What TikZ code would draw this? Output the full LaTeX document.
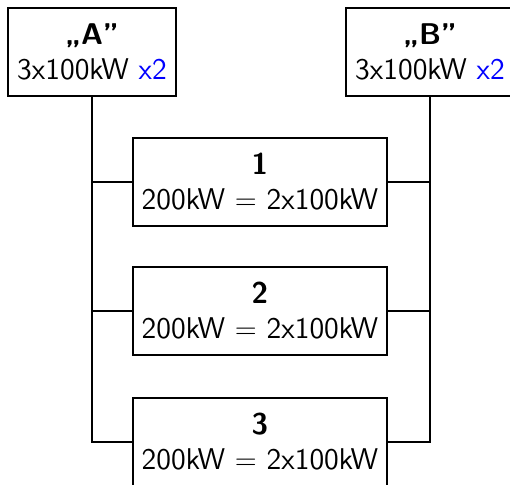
\documentclass[tikz,border=0pt]{standalone}
\usepackage{fontspec}
\begin{document}
\begin{tikzpicture}[x=0.5pt,y=-0.5pt,
  font=\sffamily\fontsize{15}{17.5}\selectfont,
  box/.style={draw, line width=0.75pt, fill=white, inner sep=0pt, align=center, minimum height=44pt},
  topbox/.style={box, minimum width=84pt},
  midbox/.style={box, minimum width=127pt},
  wire/.style={line width=0.75pt}]
\path[use as bounding box] (0,0) rectangle (510,484);
\clip (0,0) rectangle (510,484);
\node[topbox] (A) at (92,52) {\textbf{„A”}\\3x100kW \textcolor{blue}{x2}};
\node[topbox] (B) at (430,52) {\textbf{„B”}\\3x100kW \textcolor{blue}{x2}};
\node[midbox] (n1) at (260,182) {\textbf{1}\\200kW $=$ 2x100kW};
\node[midbox] (n2) at (260,311) {\textbf{2}\\200kW $=$ 2x100kW};
\node[midbox] (n3) at (260,442) {\textbf{3}\\200kW $=$ 2x100kW};
\draw[wire] (A.south) -- (A.south |- n3.west) -- (n3.west);
\draw[wire] (A.south |- n1.west) -- (n1.west);
\draw[wire] (A.south |- n2.west) -- (n2.west);
\draw[wire] (B.south) -- (B.south |- n3.east) -- (n3.east);
\draw[wire] (B.south |- n1.east) -- (n1.east);
\draw[wire] (B.south |- n2.east) -- (n2.east);
\end{tikzpicture}
\end{document}
